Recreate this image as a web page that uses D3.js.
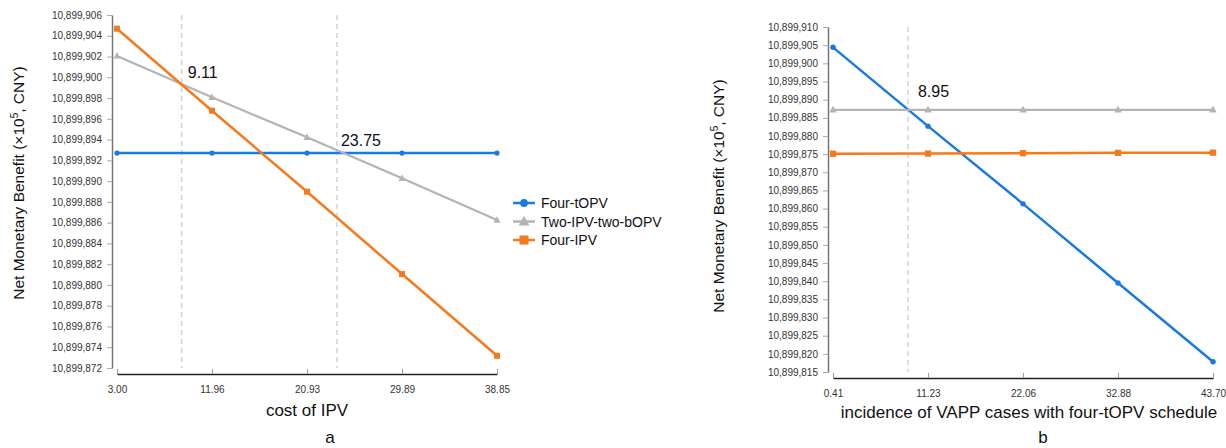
<!DOCTYPE html>
<html>
<head>
<meta charset="utf-8">
<script src="https://cdn.jsdelivr.net/npm/d3@7"></script>
<style>
  body { margin: 0; background: #fff; }
  svg { font-family: "Liberation Sans", Arial, sans-serif; }
</style>
</head>
<body>
<svg id="chart" width="1226" height="448"></svg>
<script>
// ----------------------
// data
// ----------------------
const aX = [3.00, 11.96, 20.93, 29.89, 38.85];
const aTicks = d3.range(10899872, 10899907, 2);
const aFourTOPV = [10899892.7, 10899892.7, 10899892.7, 10899892.7, 10899892.7];
const aTwoIPV = [10899902.05, 10899898.07, 10899894.22, 10899890.27, 10899886.25];
const aFourIPV = [10899904.68, 10899896.78, 10899888.98, 10899881.05, 10899873.18];
const aCuts = [9.11, 23.75];

const bX = [0.41, 11.23, 22.06, 32.88, 43.70];
const bTicks = d3.range(10899815, 10899911, 5);
const bFourTOPV = [10899904.4, 10899882.7, 10899861.3, 10899839.5, 10899817.8];
const bTwoIPV = [10899887.2, 10899887.2, 10899887.2, 10899887.2, 10899887.2];
const bFourIPV = [10899875.1, 10899875.15, 10899875.25, 10899875.35, 10899875.4];
const bCuts = [8.95];

const seriesNames = ["Four-tOPV", "Two-IPV-two-bOPV", "Four-IPV"];
const colors = { "Four-tOPV": "#1a7ae0", "Two-IPV-two-bOPV": "#b4b4b4", "Four-IPV": "#f57a1e" };

const svg = d3.select("#chart");
const fmt = d3.format(",");

// ----------------------
// one panel
// ----------------------
function drawPanel(p) {
  const x = d3.scaleLinear().domain([p.xs[0], p.xs[p.xs.length - 1]]).range([p.x0, p.x1]);
  const y = d3.scaleLinear().domain([p.ticks[0], p.ticks[p.ticks.length - 1]]).range([p.y0, p.y1]);

  // y axis
  const yAxis = svg.append("g")
    .attr("transform", `translate(${p.yAxisX},0)`)
    .call(d3.axisLeft(y).tickValues(p.ticks).tickFormat(fmt).tickSize(5).tickSizeOuter(0));
  yAxis.select(".domain").attr("stroke", "#777").attr("stroke-width", 1.5);
  yAxis.selectAll(".tick line").attr("stroke", "#aaa");
  yAxis.selectAll(".tick text").attr("fill", "#333").attr("font-size", 10).attr("x", -10);

  // x axis
  const xAxis = svg.append("g")
    .attr("transform", `translate(0,${p.xAxisY})`)
    .call(d3.axisBottom(x).tickValues(p.xs).tickFormat(d3.format(".2f")).tickSize(-5).tickSizeOuter(0));
  xAxis.select(".domain").attr("stroke", "#222").attr("stroke-width", 1.5);
  xAxis.selectAll(".tick line").attr("stroke", "#999");
  xAxis.selectAll(".tick text").attr("fill", "#333").attr("font-size", 10).attr("y", 12);

  // threshold lines
  p.cuts.forEach((c, i) => {
    svg.append("line")
      .attr("x1", x(c)).attr("x2", x(c))
      .attr("y1", p.y1).attr("y2", p.y0)
      .attr("stroke", "#c8c8c8").attr("stroke-width", 1.2)
      .attr("stroke-dasharray", "5,4");
    svg.append("text")
      .attr("x", x(c) + p.cutDx[i]).attr("y", p.cutY[i])
      .attr("font-size", 16).attr("fill", "#111")
      .text(c.toFixed(2));
  });

  // lines + markers
  p.series.forEach(s => {
    const pts = p.xs.map((v, i) => ({ x: v, y: s.values[i] }));
    const col = colors[s.name];
    svg.append("path")
      .datum(pts)
      .attr("fill", "none")
      .attr("stroke", col)
      .attr("stroke-width", s.name === "Two-IPV-two-bOPV" ? 2.2 : 2.5)
      .attr("d", d3.line().x(d => x(d.x)).y(d => y(d.y)));
    drawMarkers(pts.map(d => [x(d.x), y(d.y)]), s.name, p.markerScale);
  });

  // axis titles
  const yl = svg.append("text")
    .attr("transform", `translate(${p.yLabelX},${p.yLabelY}) rotate(-90)`)
    .attr("text-anchor", "middle")
    .attr("font-size", 15.5).attr("fill", "#111");
  yl.append("tspan").text("Net Monetary Benefit (×10");
  yl.append("tspan").attr("font-size", 10).attr("dy", -6).text("5");
  yl.append("tspan").attr("dy", 6).text(", CNY)");

  svg.append("text")
    .attr("x", p.xLabelX).attr("y", p.xLabelY)
    .attr("text-anchor", "middle")
    .attr("font-size", 17).attr("fill", "#111")
    .text(p.xLabel);

  svg.append("text")
    .attr("x", p.tagX).attr("y", 443)
    .attr("text-anchor", "middle")
    .attr("font-size", 17).attr("fill", "#111")
    .text(p.tag);
}

function drawMarkers(coords, name, k) {
  const col = colors[name];
  const g = svg.append("g");
  coords.forEach(([cx, cy]) => {
    if (name === "Four-tOPV") {
      g.append("circle").attr("cx", cx).attr("cy", cy).attr("r", 2.6 * k).attr("fill", col);
    } else if (name === "Four-IPV") {
      const s = 6 * k;
      g.append("rect").attr("x", cx - s / 2).attr("y", cy - s / 2)
        .attr("width", s).attr("height", s).attr("fill", col);
    } else {
      const s = 6.5 * k;
      g.append("path")
        .attr("d", `M${cx},${cy - s * 0.6}L${cx + s * 0.55},${cy + s * 0.4}L${cx - s * 0.55},${cy + s * 0.4}Z`)
        .attr("fill", col);
    }
  });
}

drawPanel({
  xs: aX, ticks: aTicks, cuts: aCuts,
  x0: 117, x1: 497, y0: 368, y1: 15,
  yAxisX: 112, xAxisY: 374,
  cutDx: [6, 4], cutY: [78, 146],
  markerScale: 1,
  series: [
    { name: "Four-tOPV", values: aFourTOPV },
    { name: "Two-IPV-two-bOPV", values: aTwoIPV },
    { name: "Four-IPV", values: aFourIPV }
  ],
  yLabelX: 24, yLabelY: 183,
  xLabel: "cost of IPV", xLabelX: 307, xLabelY: 416,
  tag: "a", tagX: 330
});

drawPanel({
  xs: bX, ticks: bTicks, cuts: bCuts,
  x0: 833, x1: 1213, y0: 372, y1: 27,
  yAxisX: 828, xAxisY: 378,
  cutDx: [10], cutY: [97],
  markerScale: 1.05,
  series: [
    { name: "Four-tOPV", values: bFourTOPV },
    { name: "Two-IPV-two-bOPV", values: bTwoIPV },
    { name: "Four-IPV", values: bFourIPV }
  ],
  yLabelX: 724, yLabelY: 196,
  xLabel: "incidence of VAPP cases with four-tOPV schedule", xLabelX: 1029, xLabelY: 418,
  tag: "b", tagX: 1043
});

// ----------------------
// legend (panel a)
// ----------------------
const legendY = d3.scalePoint().domain(seriesNames).range([203, 240]);
seriesNames.forEach(n => {
  const ly = legendY(n);
  svg.append("line")
    .attr("x1", 513).attr("x2", 535).attr("y1", ly).attr("y2", ly)
    .attr("stroke", colors[n]).attr("stroke-width", 2.5);
  drawMarkers([[524, ly]], n, 1.5);
  svg.append("text")
    .attr("x", 541).attr("y", ly + 5)
    .attr("font-size", 14).attr("fill", "#111")
    .text(n);
});
</script>
</body>
</html>
